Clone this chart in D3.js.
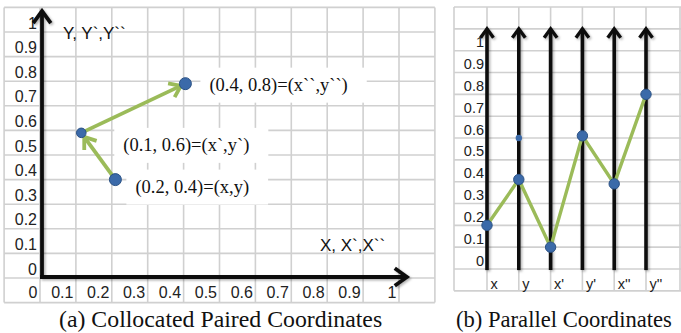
<!DOCTYPE html>
<html>
<head>
<meta charset="utf-8">
<script src="https://cdn.jsdelivr.net/npm/d3@7"></script>
<style>
  body { margin: 0; background: #fff; }
  svg { display: block; }
</style>
</head>
<body>
<script>
// tick labels shared by both panels
const tickValues = [0, 0.1, 0.2, 0.3, 0.4, 0.5, 0.6, 0.7, 0.8, 0.9, 1];

// (a) collocated paired coordinates: start point, then ` and `` points
const pairedX = [0.21, 0.115, 0.405];
const pairedY = [0.40, 0.59, 0.79];
const pairedLabels = ["(0.2,  0.4)=(x,y)", "(0.1,  0.6)=(x`,y`)", "(0.4, 0.8)=(x``,y``)"];

// (b) parallel coordinates
const axisNames = ["x", "y", "x'", "y'", "x''", "y''"];
const parallelValues = [0.2, 0.41, 0.1, 0.61, 0.39, 0.8];
const strayAxis = "y";
const strayValue = 0.6;

const width = 681, height = 333;
const gridColor = "#d0d0d0", green = "#9bbb59", dotFill = "#3b6aa9", dotStroke = "#2a5185";
const sans = "'Liberation Sans', Arial, sans-serif";
const serif = "'Liberation Serif', 'Times New Roman', serif";

const svg = d3.select("body").append("svg")
    .attr("width", width)
    .attr("height", height);

const defs = svg.append("defs");
defs.append("filter").attr("id", "shadow")
    .attr("x", "-20%").attr("y", "-20%").attr("width", "140%").attr("height", "140%")
  .append("feDropShadow")
    .attr("dx", 1.5).attr("dy", 1.5).attr("stdDeviation", 1)
    .attr("flood-color", "#000").attr("flood-opacity", 0.3);

// open chevron arrow head, tip at (x,y), pointing along angle
const chevron = (g, x, y, angle, size, color, w) => {
    let ha = 36 * Math.PI / 180;
    let a1 = [x - size * Math.cos(angle - ha), y - size * Math.sin(angle - ha)];
    let a2 = [x - size * Math.cos(angle + ha), y - size * Math.sin(angle + ha)];
    g.append("path")
        .attr("d", "M" + a1 + "L" + [x, y] + "L" + a2)
        .attr("fill", "none")
        .attr("stroke", color)
        .attr("stroke-width", w)
        .attr("stroke-linejoin", "miter");
};

// ---------------- panel (a) ----------------
const xA = d3.scaleLinear().domain([0, 1]).range([40, 399]);
const yA = d3.scaleLinear().domain([0, 1]).range([278, 32]);
const gridA = [-0.1].concat(tickValues, [1.1]);

const pa = svg.append("g");

pa.selectAll(".vg").data(gridA).enter().append("line")
    .attr("x1", d => xA(d)).attr("x2", d => xA(d))
    .attr("y1", yA(1.1)).attr("y2", yA(-0.1))
    .attr("stroke", gridColor).attr("stroke-width", 1.6);
pa.selectAll(".hg").data(gridA).enter().append("line")
    .attr("y1", d => yA(d)).attr("y2", d => yA(d))
    .attr("x1", xA(-0.1)).attr("x2", xA(1.1))
    .attr("stroke", gridColor).attr("stroke-width", 1.6);

// tick labels (right aligned in their cells, like the spreadsheet)
let yAxisA = pa.append("g")
    .attr("transform", "translate(" + xA(0) + ",0)")
    .call(d3.axisLeft(yA).tickValues(tickValues).tickSize(0).tickPadding(3).tickFormat(d => String(d)));
yAxisA.select(".domain").remove();
yAxisA.selectAll("text").attr("dy", -4).attr("font-family", sans).attr("font-size", 16).attr("fill", "#222");

let xAxisA = pa.append("g")
    .attr("transform", "translate(0," + 298 + ")")
    .call(d3.axisBottom(xA).tickValues(tickValues).tickSize(0).tickFormat(d => String(d)));
xAxisA.select(".domain").remove();
xAxisA.selectAll("text").attr("y", 0).attr("dy", 0).attr("x", -3)
    .attr("text-anchor", "end").attr("font-family", sans).attr("font-size", 16).attr("fill", "#222");

// point labels with white boxes
const labelOffsets = [[20, 13], [42, 18], [24, 7]];
pairedLabels.forEach((t, i) => {
    let tx = pa.append("text")
        .attr("x", xA(pairedX[i]) + labelOffsets[i][0])
        .attr("y", yA(pairedY[i]) + labelOffsets[i][1])
        .attr("font-family", serif).attr("font-size", 18.5).attr("fill", "#111")
        .text(t);
    let bb = tx.node().getBBox();
    pa.insert("rect", function() { return tx.node(); })
        .attr("x", bb.x - 9).attr("y", bb.y - 7)
        .attr("width", bb.width + 28).attr("height", bb.height + 14)
        .attr("fill", "#fff");
});

// black axes with arrows
let axA = pa.append("g").attr("filter", "url(#shadow)");
axA.append("line")
    .attr("x1", xA(0) + 2).attr("x2", xA(0) + 2)
    .attr("y1", yA(0) + 1).attr("y2", yA(1.085))
    .attr("stroke", "#111").attr("stroke-width", 3.8);
chevron(axA, xA(0) + 2, yA(1.085), -Math.PI / 2, 15, "#111", 3.8);
axA.append("line")
    .attr("x1", xA(0)).attr("x2", xA(1.022))
    .attr("y1", yA(0) - 1).attr("y2", yA(0) - 1)
    .attr("stroke", "#111").attr("stroke-width", 3.8);
chevron(axA, xA(1.022), yA(0) - 1, 0, 15, "#111", 3.8);

pa.append("text").attr("x", 63).attr("y", 39)
    .attr("font-family", sans).attr("font-size", 17).attr("fill", "#111")
    .text("Y, Y`,Y``");
pa.append("text").attr("x", 320).attr("y", 251)
    .attr("font-family", sans).attr("font-size", 17).attr("fill", "#111")
    .text("X, X`,X``");

// green arrows from point to point
for (let i = 0; i < pairedX.length - 1; i++) {
    let x0 = xA(pairedX[i]), y0 = yA(pairedY[i]);
    let x1 = xA(pairedX[i + 1]), y1 = yA(pairedY[i + 1]);
    let ang = Math.atan2(y1 - y0, x1 - x0);
    let tx = x1 - 5 * Math.cos(ang), ty = y1 - 5 * Math.sin(ang);
    pa.append("line")
        .attr("x1", x0).attr("y1", y0).attr("x2", tx - 2 * Math.cos(ang)).attr("y2", ty - 2 * Math.sin(ang))
        .attr("stroke", green).attr("stroke-width", 3.8);
    chevron(pa, tx, ty, ang, 13, green, 3.8);
}

pa.selectAll(".dot").data(pairedX).enter().append("circle")
    .attr("cx", d => xA(d))
    .attr("cy", (d, i) => yA(pairedY[i]))
    .attr("r", (d, i) => i == 1 ? 4.8 : 6)
    .attr("fill", dotFill).attr("stroke", dotStroke).attr("stroke-width", 1);

pa.append("text").attr("x", 59).attr("y", 327)
    .attr("font-family", serif).attr("font-size", 23.8).attr("fill", "#111")
    .text("(a) Collocated Paired Coordinates");

// ---------------- panel (b) ----------------
const xB = d3.scalePoint().domain(axisNames).range([487, 646]);
const yB = d3.scaleLinear().domain([0, 1]).range([269, 50.7]);
const gridB = [-0.1].concat(tickValues, [1.1, 1.2]);

const pb = svg.append("g");

pb.selectAll(".hg").data(gridB).enter().append("line")
    .attr("y1", d => yB(d)).attr("y2", d => yB(d))
    .attr("x1", 454).attr("x2", width)
    .attr("stroke", gridColor).attr("stroke-width", 1.6);
pb.selectAll(".vg").data([454].concat(axisNames.map(d => xB(d)), [width - 1])).enter().append("line")
    .attr("x1", d => d).attr("x2", d => d)
    .attr("y1", yB(1.2)).attr("y2", yB(-0.1))
    .attr("stroke", gridColor).attr("stroke-width", 1.6);

let yAxisB = pb.append("g")
    .attr("transform", "translate(" + xB(axisNames[0]) + ",0)")
    .call(d3.axisLeft(yB).tickValues(tickValues).tickSize(0).tickPadding(3).tickFormat(d => String(d)));
yAxisB.select(".domain").remove();
yAxisB.selectAll("text").attr("dy", -4).attr("font-family", sans).attr("font-size", 14.5).attr("fill", "#222");

let xAxisB = pb.append("g")
    .attr("transform", "translate(0," + 289 + ")")
    .call(d3.axisBottom(xB).tickSize(0));
xAxisB.select(".domain").remove();
xAxisB.selectAll("text").attr("y", 0).attr("dy", 0).attr("x", 3)
    .attr("text-anchor", "start").attr("font-family", sans).attr("font-size", 14.5).attr("fill", "#222");

let axB = pb.append("g").attr("filter", "url(#shadow)");
axisNames.forEach(n => {
    axB.append("line")
        .attr("x1", xB(n)).attr("x2", xB(n))
        .attr("y1", yB(-0.005)).attr("y2", yB(1.1))
        .attr("stroke", "#111").attr("stroke-width", 3.6);
    chevron(axB, xB(n), yB(1.1), -Math.PI / 2, 11, "#111", 3.4);
});

const line = d3.line()
    .x((d, i) => xB(axisNames[i]))
    .y(d => yB(d));
pb.append("path")
    .attr("d", line(parallelValues))
    .attr("fill", "none")
    .attr("stroke", green).attr("stroke-width", 3.4)
    .attr("stroke-linejoin", "miter");

pb.append("circle")
    .attr("cx", xB(strayAxis)).attr("cy", yB(strayValue)).attr("r", 3.2)
    .attr("fill", dotFill);

pb.selectAll(".dot").data(parallelValues).enter().append("circle")
    .attr("cx", (d, i) => xB(axisNames[i]))
    .attr("cy", d => yB(d))
    .attr("r", 5.2)
    .attr("fill", dotFill).attr("stroke", dotStroke).attr("stroke-width", 1);

// caption shrunk a little so it stays inside the page
pb.append("text").attr("x", 456).attr("y", 327)
    .attr("font-family", serif).attr("font-size", 22.6).attr("fill", "#111")
    .text("(b) Parallel Coordinates");
</script>
</body>
</html>
